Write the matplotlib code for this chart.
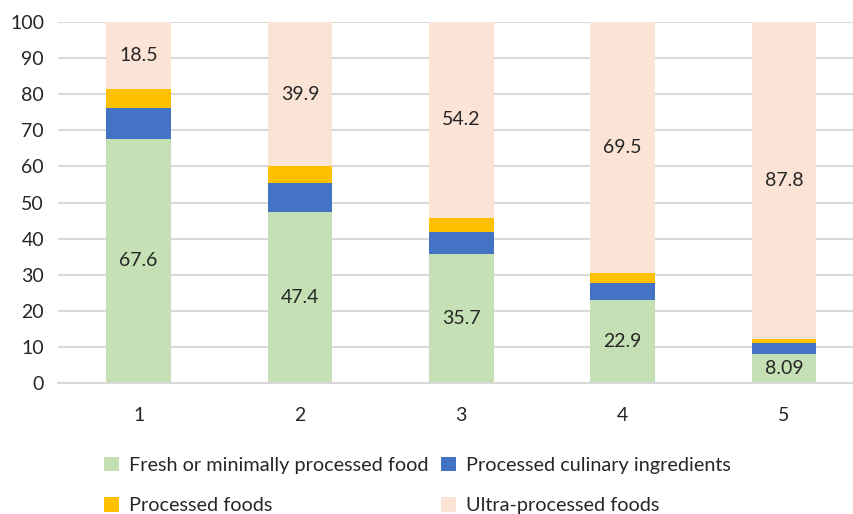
import matplotlib
matplotlib.use("Agg")
import matplotlib.pyplot as plt
import numpy as np

plt.rcParams['font.family'] = ['Lato', 'DejaVu Sans']

groups = ["1", "2", "3", "4", "5"]
fresh = [67.6, 47.4, 35.7, 22.9, 8.09]        # fresh or minimally processed
culinary = [8.6, 8.1, 6.0, 4.9, 2.9]          # processed culinary ingredients
processed = [5.3, 4.6, 4.1, 2.7, 1.2]         # processed foods
ultra = [18.5, 39.9, 54.2, 69.5, 87.8]        # ultra-processed foods

labels = ["Fresh or minimally processed food", "Processed culinary ingredients",
          "Processed foods", "Ultra-processed foods"]
colors = ["#C5E0B4", "#4472C4", "#FFC000", "#FBE3D6"]
txt = "#262626"

fig = plt.figure(figsize=(8.54, 5.14), dpi=100)
ax = fig.add_axes([58/854, 131/514, 806.5/854, 361/514])

x = np.arange(1, len(groups) + 1)
w = 0.40
series = [fresh, culinary, processed, ultra]
bottom = np.zeros(len(groups))
bars = []
for vals, lab, col in zip(series, labels, colors):
    b = ax.bar(x, vals, w, bottom=bottom, color=col, label=lab, zorder=2)
    bars.append(b)
    bottom = bottom + np.array(vals)

# value labels only on the fresh and ultra segments
ax.bar_label(bars[0], labels=[f"{v:g}" for v in fresh], label_type='center',
             fontsize=14, color=txt)
ax.bar_label(bars[3], labels=[f"{v:g}" for v in ultra], label_type='center',
             fontsize=14, color=txt)

ax.set_xlim(0.5, 5.5)
ax.set_ylim(0, 100)
ax.set_yticks(range(0, 101, 10))
ax.set_xticks(x)
ax.set_xticklabels(groups)
ax.yaxis.grid(True, color="#D9D9D9", linewidth=1.5, zorder=0)
ax.set_axisbelow(True)
for s in ["top", "right", "left"]:
    ax.spines[s].set_visible(False)
ax.spines["bottom"].set_color("#D9D9D9")
ax.spines["bottom"].set_linewidth(1.5)
ax.tick_params(axis='both', length=0, labelsize=14, colors=txt)
ax.tick_params(axis='y', pad=10)
ax.tick_params(axis='x', pad=17)

# legend: fill order column-wise, so reorder to get rows Fresh/Culinary, Processed/Ultra
h = [bars[0], bars[2], bars[1], bars[3]]
l = [labels[0], labels[2], labels[1], labels[3]]
fig.legend(h, l, ncol=2, loc='upper left', bbox_to_anchor=(96/854, 1 - 449/514),
           frameon=False, fontsize=14.3, handlelength=0.75, handleheight=0.75,
           handletextpad=0.5, columnspacing=0.65, labelspacing=1.15,
           labelcolor=txt, borderaxespad=0)

fig.savefig("out.png", dpi=100)
